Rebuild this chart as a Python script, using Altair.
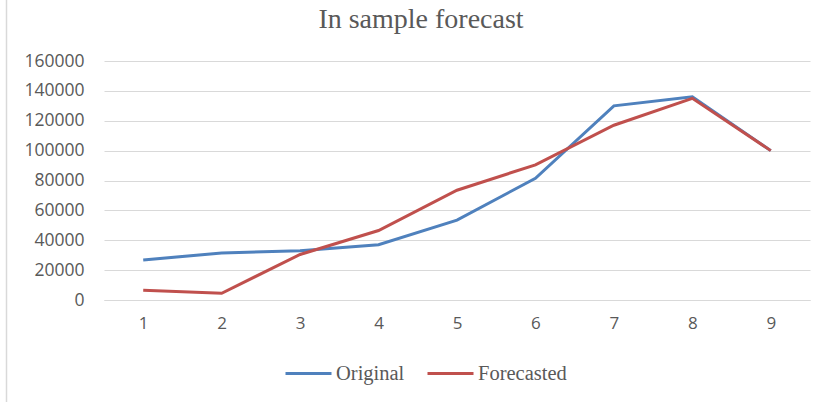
import altair as alt
import pandas as pd

periods = [1, 2, 3, 4, 5, 6, 7, 8, 9]
original = [26800, 31500, 33000, 37000, 53500, 81500, 130000, 136000, 100000]
forecasted = [6500, 4500, 30500, 46500, 73500, 90500, 117000, 135000, 100000]
series_names = ["Original", "Forecasted"]
series_colors = ["#4f81bd", "#c0504d"]
y_ticks = [0, 20000, 40000, 60000, 80000, 100000, 120000, 140000, 160000]
chart_title = "In sample forecast"

rows = []
for i, p in enumerate(periods):
    rows.append({"period": p, "series": "Original", "value": original[i], "order": 0})
for i, p in enumerate(periods):
    rows.append({"period": p, "series": "Forecasted", "value": forecasted[i], "order": 1})
df = pd.DataFrame(rows)

lines = alt.Chart(df).mark_line(strokeWidth=3).encode(
    x=alt.X("period:O", title=None,
            scale=alt.Scale(paddingInner=1, paddingOuter=0.5),
            axis=alt.Axis(labelAngle=0, ticks=False, domain=True, domainColor="#d9d9d9",
                          labelPadding=15, labelFont="Open Sans", labelFontSize=17,
                          labelColor="#595959", grid=False)),
    y=alt.Y("value:Q", title=None,
            scale=alt.Scale(domain=[0, 160000], nice=False),
            axis=alt.Axis(values=y_ticks, format="d", ticks=False, domain=False,
                          labelPadding=20, labelFont="Open Sans", labelFontSize=17.5,
                          labelColor="#595959", gridColor="#d9d9d9", gridWidth=1)),
    color=alt.Color("series:N",
                    scale=alt.Scale(domain=series_names, range=series_colors),
                    legend=alt.Legend(title=None, orient="none", direction="horizontal",
                                      legendX=180, legendY=288,
                                      symbolType="stroke", symbolSize=2116,
                                      symbolStrokeWidth=3, labelFont="Liberation Serif",
                                      labelFontSize=20.5, labelColor="#595959",
                                      labelOffset=3, columnPadding=16)),
    order=alt.Order("order:Q"),
    detail="series:N",
)

border = alt.Chart(pd.DataFrame({"a": [0]})).mark_rule(color="#d9d9d9", strokeWidth=1.5).encode(
    x=alt.value(-97.5), y=alt.value(-61), y2=alt.value(341)
)

title_mark = alt.Chart(pd.DataFrame({"t": [chart_title]})).mark_text(
    font="Liberation Serif", fontSize=28, color="#595959", align="center", baseline="alphabetic"
).encode(x=alt.value(317), y=alt.value(-33), text="t:N")

chart = alt.layer(border, title_mark, lines).properties(
    width=706, height=239,
    autosize=alt.AutoSizeParams(type="none"),
    padding={"left": 104, "top": 61, "right": 20, "bottom": 102},
    view=alt.ViewBackground(stroke="transparent", strokeWidth=0),
).configure_view(stroke="transparent", strokeWidth=0).configure_axisX(grid=False).configure(background="white")

chart.save("out.html", embed_options={"renderer": "svg", "actions": False})
